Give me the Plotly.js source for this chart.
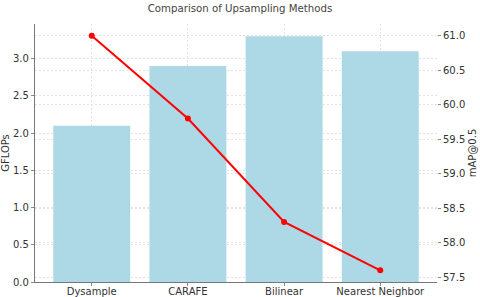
<!DOCTYPE html>
<html>
<head>
<meta charset="utf-8">
<script src="https://cdn.plot.ly/plotly-3.0.1.min.js"></script>
<style>html,body{margin:0;padding:0;background:#fff;}#chart{width:480px;height:297px;}</style>
</head>
<body>
<div id="chart"></div>
<script>
const methods = ["Dysample", "CARAFE", "Bilinear", "Nearest Neighbor"];
const gflops = [2.1, 2.9, 3.3, 3.1];
const mapScores = [61.0, 59.8, 58.3, 57.6];

const font = "DejaVu Sans, sans-serif";
const gridCol = "#dcdcdc";
const gridDash = "2px,2px";

const traces = [
  {
    type: "bar",
    x: methods,
    y: gflops,
    width: 0.8,
    marker: {color: "#add8e6"},
    yaxis: "y",
    hoverinfo: "x+y"
  },
  {
    type: "scatter",
    mode: "lines+markers",
    x: methods,
    y: mapScores,
    yaxis: "y2",
    line: {color: "#ff0000", width: 2},
    marker: {color: "#ff0000", size: 6}
  }
];

const layout = {
  width: 480,
  height: 297,
  margin: {l: 35, r: 43, t: 24, b: 15},
  paper_bgcolor: "#fff",
  plot_bgcolor: "#fff",
  showlegend: false,
  font: {family: font, size: 10, color: "#333"},
  title: {
    text: "Comparison of Upsampling Methods",
    font: {family: font, size: 10.2, color: "#444"},
    x: 0.5, xanchor: "center",
    y: 0.985, yanchor: "top", yref: "container"
  },
  xaxis: {
    type: "category",
    range: [-0.59, 3.59],
    showgrid: true,
    gridcolor: gridCol,
    griddash: gridDash,
    gridwidth: 0.8,
    ticks: "outside",
    ticklen: 3,
    tickcolor: "#888",
    showline: true,
    linecolor: "#777",
    linewidth: 1.2,
    zeroline: false,
    ticklabelstandoff: -3,
    tickfont: {family: font, size: 10, color: "#333"}
  },
  yaxis: {
    range: [0, 3.465],
    dtick: 0.5,
    tickformat: ".1f",
    showgrid: true,
    gridcolor: gridCol,
    griddash: gridDash,
    gridwidth: 0.8,
    ticks: "outside",
    ticklen: 3,
    tickcolor: "#888",
    showline: true,
    linecolor: "#777",
    linewidth: 1.2,
    zeroline: false,
    tickfont: {family: font, size: 10, color: "#333"},
    title: {text: "GFLOPs", font: {family: font, size: 10, color: "#333"}, standoff: 5}
  },
  yaxis2: {
    overlaying: "y",
    side: "right",
    range: [57.43, 61.17],
    dtick: 0.5,
    tickformat: ".1f",
    showgrid: true,
    gridcolor: gridCol,
    griddash: gridDash,
    gridwidth: 0.8,
    ticks: "outside",
    ticklen: 3,
    tickcolor: "#888",
    showline: false,
    zeroline: false,
    ticklabelstandoff: 0,
    tickfont: {family: font, size: 10, color: "#333"},
    title: {text: "mAP@0.5", font: {family: font, size: 10, color: "#333"}, standoff: 4}
  }
};

Plotly.newPlot("chart", traces, layout, {displayModeBar: false, staticPlot: true});
</script>
</body>
</html>
